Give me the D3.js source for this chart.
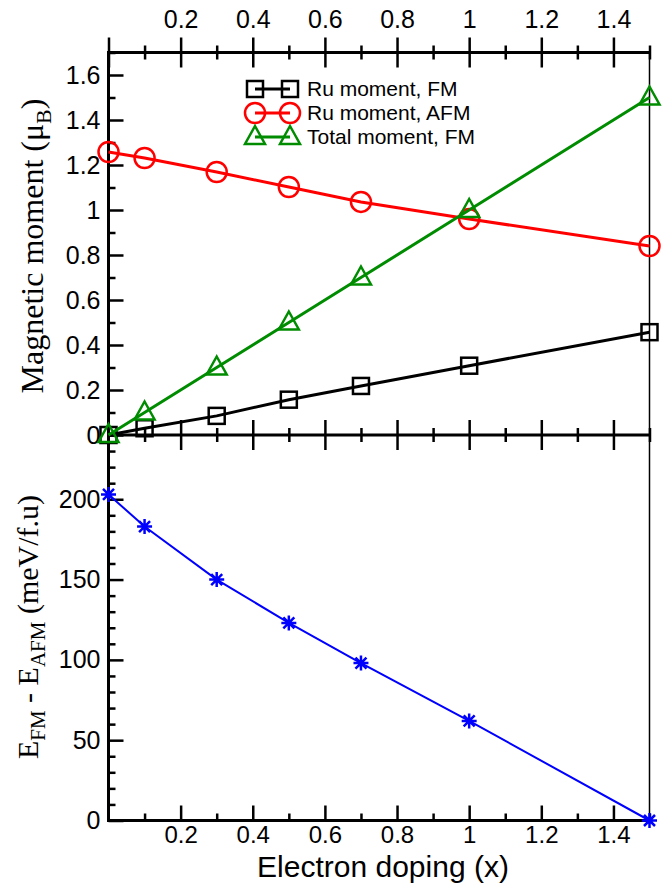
<!DOCTYPE html>
<html>
<head>
<meta charset="utf-8">
<script src="https://cdn.jsdelivr.net/npm/d3@7"></script>
<style>
	body { margin: 0; background: #fff; }
	svg { display: block; }
	.tick text { font-family: "Liberation Sans", Arial, sans-serif; font-size: 25px; fill: #000; }
</style>
</head>
<body>
<svg width="669" height="884"></svg>
<script>
// doping values shared by every series
const doping = [0, 0.1, 0.3, 0.5, 0.7, 1.0, 1.5];
const ruMomentFM = [0, 0.03, 0.085, 0.157, 0.218, 0.308, 0.457];
const ruMomentAFM = [1.258, 1.231, 1.169, 1.102, 1.036, 0.96, 0.84];
const totalMomentFM = [0, 0.1, 0.3, 0.5, 0.7, 1.0, 1.5];
const energyDiff = [203, 183, 150, 123, 98, 62, 0];

const xTicks = [0.2, 0.4, 0.6, 0.8, 1.0, 1.2, 1.4];
const momentTicks = [0, 0.2, 0.4, 0.6, 0.8, 1.0, 1.2, 1.4, 1.6];
const energyTicks = [0, 50, 100, 150, 200];

const legendNames = ['Ru moment, FM', 'Ru moment, AFM', 'Total moment, FM'];

var left = 108.5, right = 649.5;
var topY = 52.5, midY = 435, bottomY = 820.5;

let x = d3.scaleLinear().domain([0, 1.5]).range([left, right]);
let yTop = d3.scaleLinear().domain([0, 1.7]).range([midY, topY]);
let yBot = d3.scaleLinear().domain([0, 240]).range([bottomY, midY]);

let svg = d3.select('svg');
svg.append('rect').attr('width', 669).attr('height', 884).attr('fill', '#fff');

let fmt = d => String(+d.toFixed(1));
let xMinor = d3.range(0, 15.01, 1).map(d => d / 10);
let momMinor = d3.range(0, 17.01, 1).map(d => d / 10);
let enMinor = d3.range(0, 241, 10);

function styleAxis(g, width) {
	g.select('.domain').remove();
	g.selectAll('.tick line').attr('stroke', '#000').attr('stroke-width', width || 2.5);
}

// frame lines
svg.append('line').attr('x1', right).attr('x2', right).attr('y1', topY).attr('y2', bottomY)
	.attr('stroke', '#000').attr('stroke-width', 1.5);
svg.append('line').attr('x1', left).attr('x2', left).attr('y1', topY - 1.5).attr('y2', bottomY + 1.5)
	.attr('stroke', '#000').attr('stroke-width', 3);
[topY, midY, bottomY].forEach(y0 => {
	svg.append('line').attr('x1', left).attr('x2', right).attr('y1', y0).attr('y2', y0)
		.attr('stroke', '#000').attr('stroke-width', 3);
});

// top axis: ticks cross the line, labels above
let gTop = svg.append('g').attr('transform', `translate(0,${topY})`)
	.call(d3.axisTop(x).tickValues([0].concat(xTicks)).tickSize(15).tickPadding(10).tickFormat(d => d === 0 ? '' : fmt(d)));
gTop.selectAll('.tick line').attr('y1', 15);
styleAxis(gTop);
let gTopMinor = svg.append('g').attr('transform', `translate(0,${topY})`)
	.call(d3.axisTop(x).tickValues(xMinor.filter((d, i) => i % 2 == 1)).tickSize(7).tickFormat(''));
gTopMinor.selectAll('.tick line').attr('y1', 7);
styleAxis(gTopMinor);

// middle axis, ticks on both sides, no labels
let gMid = svg.append('g').attr('transform', `translate(0,${midY})`)
	.call(d3.axisBottom(x).tickValues(xTicks).tickSize(15).tickFormat(''));
gMid.selectAll('.tick line').attr('y1', -15);
styleAxis(gMid);
let gMidMinor = svg.append('g').attr('transform', `translate(0,${midY})`)
	.call(d3.axisBottom(x).tickValues(xMinor.filter((d, i) => i % 2 == 1)).tickSize(7).tickFormat(''));
gMidMinor.selectAll('.tick line').attr('y1', -7);
styleAxis(gMidMinor);

// bottom axis, ticks pointing in
let gBot = svg.append('g').attr('transform', `translate(0,${bottomY})`)
	.call(d3.axisBottom(x).tickValues(xTicks).tickSize(-15).tickPadding(5).tickFormat(fmt));
gBot.selectAll('.tick text').style('font-size', '24px');
styleAxis(gBot);
let gBotMinor = svg.append('g').attr('transform', `translate(0,${bottomY})`)
	.call(d3.axisBottom(x).tickValues(xMinor.filter((d, i) => i % 2 == 1)).tickSize(-7).tickFormat(''));
styleAxis(gBotMinor);

// left axes
let gLeftTop = svg.append('g').attr('transform', `translate(${left},0)`)
	.call(d3.axisLeft(yTop).tickValues(momentTicks).tickSize(-15).tickPadding(8).tickFormat(fmt));
styleAxis(gLeftTop);
let gLeftTopMinor = svg.append('g').attr('transform', `translate(${left},0)`)
	.call(d3.axisLeft(yTop).tickValues(momMinor.filter((d, i) => i % 2 == 1)).tickSize(-7).tickFormat(''));
styleAxis(gLeftTopMinor);

let gLeftBot = svg.append('g').attr('transform', `translate(${left},0)`)
	.call(d3.axisLeft(yBot).tickValues(energyTicks).tickSize(-15).tickPadding(8).tickFormat(d => d));
styleAxis(gLeftBot);
let gLeftBotMinor = svg.append('g').attr('transform', `translate(${left},0)`)
	.call(d3.axisLeft(yBot).tickValues(enMinor.filter(d => d % 50 != 0)).tickSize(-7).tickFormat(''));
styleAxis(gLeftBotMinor);

// axis titles
svg.append('text')
	.attr('x', 383).attr('y', 877)
	.attr('text-anchor', 'middle')
	.style('font-family', '"Liberation Sans", Arial, sans-serif')
	.style('font-size', '30px')
	.text('Electron doping (x)');

let t1 = svg.append('text')
	.attr('transform', 'translate(43,246) rotate(-90)')
	.attr('text-anchor', 'middle')
	.style('font-family', '"Liberation Serif", "Times New Roman", serif')
	.style('font-size', '32px');
t1.append('tspan').text('Magnetic moment (\u03bc');
t1.append('tspan').attr('dy', 8).style('font-size', '22px').text('B');
t1.append('tspan').attr('dy', -8).text(')');

let t2 = svg.append('text')
	.attr('transform', 'translate(38,627) rotate(-90)')
	.attr('text-anchor', 'middle')
	.style('font-family', '"Liberation Serif", "Times New Roman", serif')
	.style('font-size', '30px');
t2.append('tspan').text('E');
t2.append('tspan').attr('dy', 7).style('font-size', '21px').text('FM');
t2.append('tspan').attr('dy', -7).text(' - E');
t2.append('tspan').attr('dy', 7).style('font-size', '21px').text('AFM');
t2.append('tspan').attr('dy', -7).text(' (meV/f.u)');

// moment series
let series = [
	{ name: legendNames[0], values: ruMomentFM, color: '#000', shape: 'square' },
	{ name: legendNames[1], values: ruMomentAFM, color: '#ff0000', shape: 'circle' },
	{ name: legendNames[2], values: totalMomentFM, color: '#008c00', shape: 'triangle' }
];

function drawMarker(g, shape, color) {
	if (shape == 'square') {
		g.append('rect').attr('x', -8).attr('y', -8).attr('width', 16).attr('height', 16)
			.attr('fill', 'none').attr('stroke', color).attr('stroke-width', 2.5);
	} else if (shape == 'circle') {
		g.append('circle').attr('r', 10)
			.attr('fill', 'none').attr('stroke', color).attr('stroke-width', 2.5);
	} else {
		g.append('path').attr('d', 'M0,-11 L10,7 L-10,7 Z')
			.attr('fill', 'none').attr('stroke', color).attr('stroke-width', 2.5)
			.attr('stroke-linejoin', 'miter');
	}
}

let momentLine = d3.line().x(d => x(d[0])).y(d => yTop(d[1]));
series.forEach(s => {
	let pts = doping.map((d, i) => [d, s.values[i]]);
	svg.append('path').attr('d', momentLine(pts))
		.attr('fill', 'none').attr('stroke', s.color).attr('stroke-width', 3);
	svg.append('g').selectAll('g')
		.data(pts)
		.join('g')
		.attr('transform', d => `translate(${x(d[0])},${yTop(d[1])})`)
		.each(function() { drawMarker(d3.select(this), s.shape, s.color); });
});

// legend
let legend = svg.append('g');
series.forEach((s, i) => {
	let ly = 89 + i * 24;
	legend.append('line').attr('x1', 255).attr('x2', 290).attr('y1', ly).attr('y2', ly)
		.attr('stroke', s.color).attr('stroke-width', 3);
	drawMarker(legend.append('g').attr('transform', `translate(255,${ly})`), s.shape, s.color);
	drawMarker(legend.append('g').attr('transform', `translate(290,${ly})`), s.shape, s.color);
	legend.append('text').attr('x', 307).attr('y', ly + 7)
		.style('font-family', '"Liberation Sans", Arial, sans-serif')
		.style('font-size', '21px')
		.text(s.name);
});

// energy difference
let energyPts = doping.map((d, i) => [d, energyDiff[i]]);
svg.append('path')
	.attr('d', d3.line().x(d => x(d[0])).y(d => yBot(d[1]))(energyPts))
	.attr('fill', 'none').attr('stroke', '#0000ff').attr('stroke-width', 2);
let star = 'M0,-7.5V7.5M-7.5,0H7.5M-5.5,-5.5L5.5,5.5M-5.5,5.5L5.5,-5.5';
svg.append('g').selectAll('path')
	.data(energyPts)
	.join('path')
	.attr('transform', d => `translate(${x(d[0])},${yBot(d[1])})`)
	.attr('d', star)
	.attr('stroke', '#0000ff').attr('stroke-width', 2.5);
</script>
</body>
</html>
